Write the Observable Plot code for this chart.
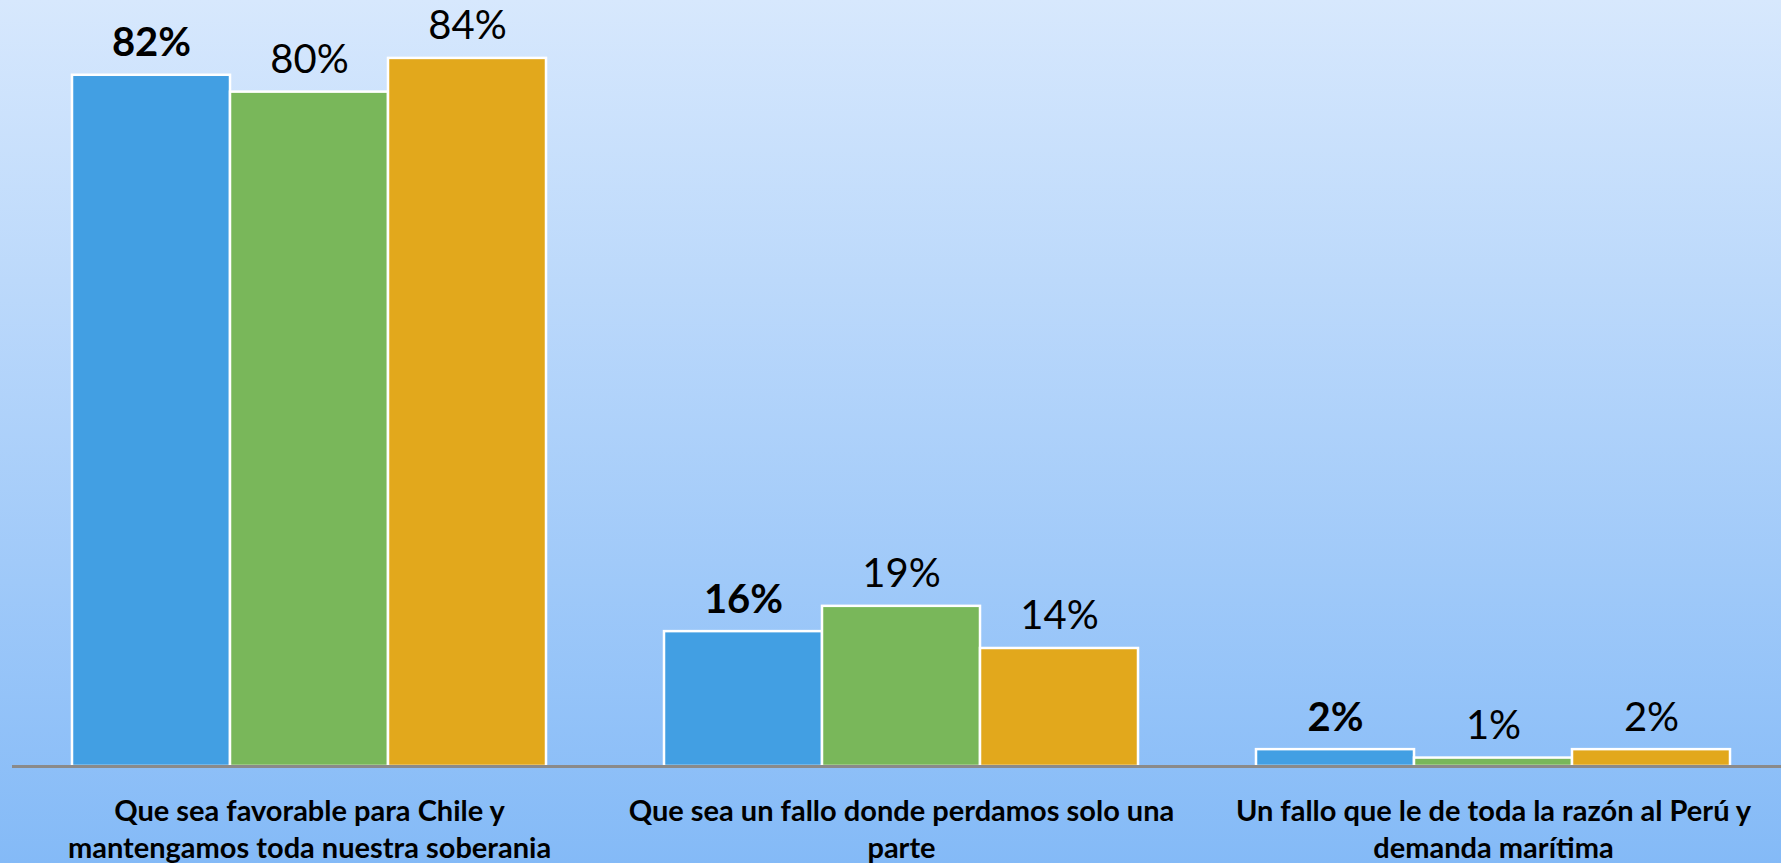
<!DOCTYPE html>
<html>
<head>
<meta charset="utf-8">
<script src="https://cdn.jsdelivr.net/npm/d3@7"></script>
<script src="https://cdn.jsdelivr.net/npm/@observablehq/plot@0.6"></script>
<style>
  html, body { margin: 0; padding: 0; overflow: hidden; }
  body {
    width: 1781px; height: 863px;
    background: linear-gradient(180deg, #D7E8FD 0%, #84BAF7 100%);
    font-family: Lato, "Liberation Sans Narrow", "DejaVu Sans Condensed", sans-serif;
  }
  #chart svg { display: block; background: transparent; }
</style>
</head>
<body>
<div id="chart"></div>
<script>
const categories = [
  "Que sea favorable para Chile y mantengamos toda nuestra soberania",
  "Que sea un fallo donde perdamos solo una parte",
  "Un fallo que le de toda la razón al Perú y demanda marítima"
];
const categoryLabels = [
  "Que sea favorable para Chile y\nmantengamos toda nuestra soberania",
  "Que sea un fallo donde perdamos solo una\nparte",
  "Un fallo que le de toda la razón al Perú y\ndemanda marítima"
];
const series = ["Serie 1", "Serie 2", "Serie 3"];
const seriesColors = ["#429FE3", "#79B75A", "#E2A81C"];
const values1 = [82, 16, 2];
const values2 = [80, 19, 1];
const values3 = [84, 14, 2];

const allValues = [values1, values2, values3];
const data = [];
categories.forEach((c, i) => {
  series.forEach((s, j) => {
    data.push({category: c, series: s, value: allValues[j][i]});
  });
});
const labelData = categories.map((c, i) => ({category: c, label: categoryLabels[i]}));
const baseData = categories.map(c => ({category: c, value: 0}));
const boldData = data.filter(d => d.series === series[0]);
const plainData = data.filter(d => d.series !== series[0]);

const valueText = (rows, weight) => Plot.text(rows, {
  fx: "category", x: "series", y: "value",
  text: d => d.value + "%",
  lineAnchor: "bottom", dy: -19,
  fontSize: 40, fontWeight: weight, fill: "black"
});

const chart = Plot.plot({
  width: 1781,
  height: 863,
  marginTop: 0,
  marginBottom: 97,
  marginLeft: 12,
  marginRight: -8,
  style: {background: "transparent", overflow: "hidden", fontFamily: "Lato, 'Liberation Sans Narrow', sans-serif"},
  fx: {domain: categories, paddingInner: 0.2, paddingOuter: 0.1, axis: null, label: null},
  x: {domain: series, padding: 0, axis: null, label: null},
  y: {domain: [0, 90.87], axis: null, label: null},
  color: {domain: series, range: seriesColors},
  marks: [
    Plot.barY(data, {fx: "category", x: "series", y: "value", fill: "series", stroke: "white", strokeWidth: 2.5}),
    Plot.ruleY(baseData, {fx: "category", y: "value", insetLeft: -60, insetRight: -60, stroke: "#8A8A8A", strokeWidth: 3}),
    valueText(boldData, "bold"),
    valueText(plainData, "normal"),
    Plot.text(labelData, {
      fx: "category", text: "label",
      frameAnchor: "bottom", lineAnchor: "middle", dy: 61,
      lineHeight: 1.28, fontSize: 29, fontWeight: "bold", fill: "black"
    })
  ]
});
document.getElementById("chart").append(chart);
</script>
</body>
</html>
